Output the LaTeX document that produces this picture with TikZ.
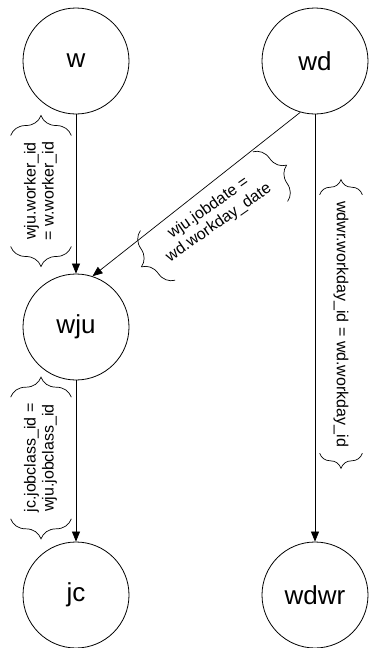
\documentclass[tikz,border=0pt]{standalone}
\usepackage{fontspec}
\setmainfont{Liberation Sans}
\usetikzlibrary{arrows.meta,decorations.pathreplacing}

\begin{document}
\begin{tikzpicture}[x=1pt,y=-1pt,->,>={Triangle[length=10pt,width=8pt]},line width=0.7pt,
    main node/.style={circle,draw,line width=0.8pt,minimum size=106pt,inner sep=0pt,font=\fontsize{26}{30}\selectfont},
    join label/.style={inner xsep=6pt,inner ysep=0pt,minimum height=60pt,font=\fontsize{16}{18}\selectfont},
    join brace/.style={-,decorate,decoration={brace,amplitude=20pt}}]
            \useasboundingbox (0,0) rectangle (368,648);
            \node[main node] (w) at (76,61) {w};
            \node[main node] (wd) at (315,61) {wd};
            \node[main node] (wju) at (76,327) {wju};
            \node[main node] (jc) at (76,595) {jc};
            \node[main node] (wdwr) at (315,595) {wdwr};

            \path
                (w) edge (wju)
                (wd.254) edge (wju.72)
                (wd) edge (wdwr)
                (wju) edge (jc)
                ;

            % join conditions
            \node[join label,rotate=90] (wlab) at (41,191)
                {\begin{tabular}{@{}c@{}}wju.worker\_id\\= w.worker\_id\end{tabular}};
            \node[join label,rotate=35] (wdlab) at (214,216)
                {\begin{tabular}{@{}c@{}}wju.jobdate =\\wd.workday\_date\end{tabular}};
            \node[join label,rotate=-90,minimum height=42pt] (wdwrlab) at (341,324)
                {wdwr.workday\_id = wd.workday\_id};
            \node[join label,rotate=90] (jclab) at (41,458)
                {\begin{tabular}{@{}c@{}}jc.jobclass\_id =\\wju.jobclass\_id\end{tabular}};

            \foreach \lab in {wlab,wdlab,jclab} {
                \draw[join brace] (\lab.south west) -- (\lab.north west);
                \draw[join brace] (\lab.north east) -- (\lab.south east);
            }
            \draw[join brace,decoration={amplitude=15pt}] (wdwrlab.south west) -- (wdwrlab.north west);
            \draw[join brace,decoration={amplitude=15pt}] (wdwrlab.north east) -- (wdwrlab.south east);
\end{tikzpicture}
\end{document}
